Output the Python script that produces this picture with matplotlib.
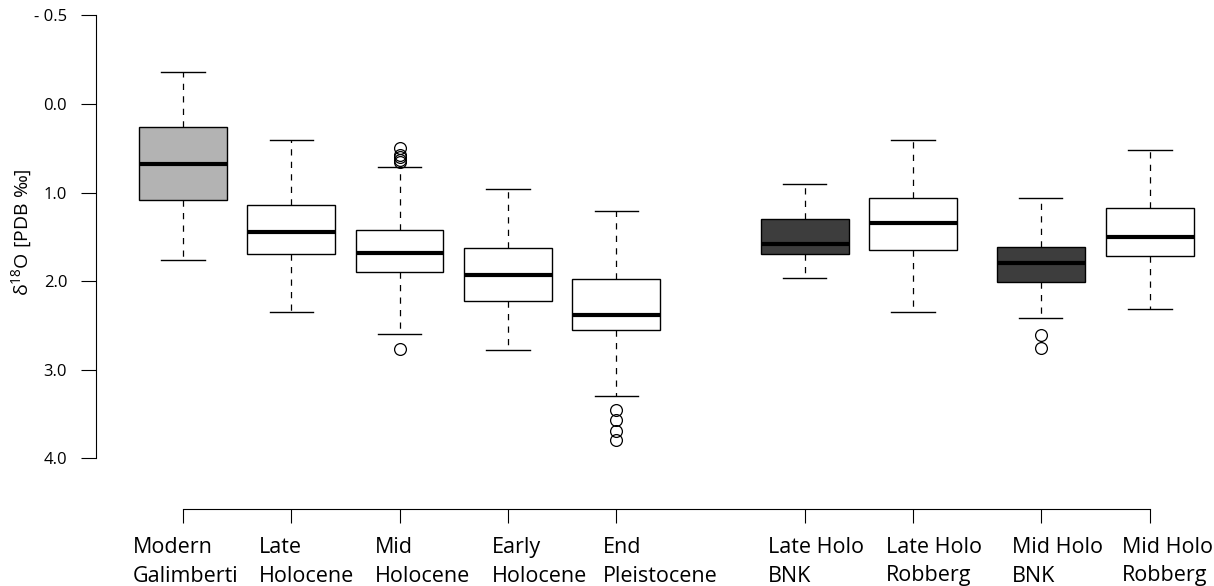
import matplotlib
matplotlib.use("Agg")
import matplotlib.pyplot as plt
import matplotlib.transforms as mtrans

plt.rcParams['font.family'] = ['Open Sans', 'DejaVu Sans']
plt.rcParams['mathtext.fontset'] = 'custom'
plt.rcParams['mathtext.rm'] = 'Open Sans'
plt.rcParams['mathtext.it'] = 'Open Sans:italic'

# ---- data (delta 18O, PDB permil) ----
labels = ["Modern\nGalimberti", "Late\nHolocene", "Mid\nHolocene", "Early\nHolocene",
          "End\nPleistocene", "Late Holo\nBNK", "Late Holo\nRobberg", "Mid Holo\nBNK",
          "Mid Holo\nRobberg"]
whislo = [-0.36, 0.41, 0.71, 0.96, 1.21, 0.90, 0.41, 1.06, 0.52]
q1 = [0.26, 1.14, 1.42, 1.63, 1.97, 1.30, 1.06, 1.61, 1.17]
med = [0.68, 1.44, 1.68, 1.93, 2.38, 1.58, 1.34, 1.79, 1.50]
q3 = [1.08, 1.69, 1.90, 2.22, 2.55, 1.69, 1.65, 2.01, 1.72]
whishi = [1.76, 2.35, 2.60, 2.78, 3.30, 1.96, 2.35, 2.42, 2.31]
fliers = [[], [], [0.50, 0.57, 0.60, 0.63, 0.66, 2.76], [], [3.45, 3.57, 3.69, 3.79],
          [], [], [2.61, 2.75], []]
fills = ["#b3b3b3", "white", "white", "white", "white", "#3d3d3d", "white", "#3d3d3d", "white"]
ytick_pos = [-1, 0, 1, 2, 3, 4]
ytick_labels = ["- 0.5", "0.0", "1.0", "2.0", "3.0", "4.0"]

# ---- layout ----
positions = [1, 2, 3, 4, 5, 6.74, 7.74, 8.92, 9.93]
label_offset_px = [-50.3, -32.4, -25.0, -15.7, -13.7, -37.0, -27.0, -29.0, -28.0]
W, H = 1214, 586
fig = plt.figure(figsize=(W / 100, H / 100), dpi=100)
ax_l, ax_r, ax_t, ax_b = 95.7, 1214, 5, 509.3
ax = fig.add_axes([ax_l / W, (H - ax_b) / H, (ax_r - ax_l) / W, (ax_b - ax_t) / H])

unit = 108.3  # px per x unit
x0px = 183.0
ax.set_xlim(1 + (ax_l - x0px) / unit, 1 + (ax_r - x0px) / unit)
ypu = 88.6
y0px = 104.0
ax.set_ylim((ax_b - y0px) / ypu, (ax_t - y0px) / ypu)

stats = []
for i in range(len(labels)):
    stats.append(dict(whislo=whislo[i], q1=q1[i], med=med[i], q3=q3[i],
                      whishi=whishi[i], fliers=fliers[i], label=labels[i]))

bp = ax.bxp(stats, positions=positions, widths=0.81, capwidths=0.40,
            patch_artist=True, showfliers=True,
            boxprops=dict(edgecolor='black', linewidth=1.0),
            medianprops=dict(color='black', linewidth=3.0, solid_capstyle='butt'),
            whiskerprops=dict(color='black', linewidth=0.9, linestyle=(0, (5, 5))),
            capprops=dict(color='black', linewidth=1.0),
            flierprops=dict(marker='o', markerfacecolor='none', markeredgecolor='black',
                            markersize=8.5, markeredgewidth=0.9, linestyle='none'))
for patch, c in zip(bp['boxes'], fills):
    patch.set_facecolor(c)

for s in ['top', 'right']:
    ax.spines[s].set_visible(False)
ax.spines['left'].set_bounds(ytick_pos[0], ytick_pos[-1])
ax.spines['bottom'].set_bounds(positions[0], positions[-1])
for s in ['left', 'bottom']:
    ax.spines[s].set_linewidth(0.8)

ax.set_yticks(ytick_pos)
ax.set_yticklabels(ytick_labels, fontsize=12)
ax.set_xticks(positions)
ax.set_xticklabels([])
ax.tick_params(axis='y', direction='out', length=10.5, width=0.8, pad=10)
ax.tick_params(axis='x', direction='out', length=10, width=0.8)

# x labels (two lines each, left-aligned)
tr = mtrans.blended_transform_factory(ax.transData, fig.transFigure)
for p, off, lab in zip(positions, label_offset_px, labels):
    xs = p + off / unit
    l1, l2 = lab.split("\n")
    fig.text(xs, (H - 553.0) / H, l1, fontsize=15.5, ha='left', va='baseline', transform=tr)
    fig.text(xs, (H - 581.5) / H, l2, fontsize=15.5, ha='left', va='baseline', transform=tr)

fig.text(22 / W, (H - 232) / H, r'$\mathregular{\delta^{18}}$O [PDB ‰]', rotation=90,
         fontsize=14, ha='center', va='center')

fig.savefig("out.png", dpi=100)
